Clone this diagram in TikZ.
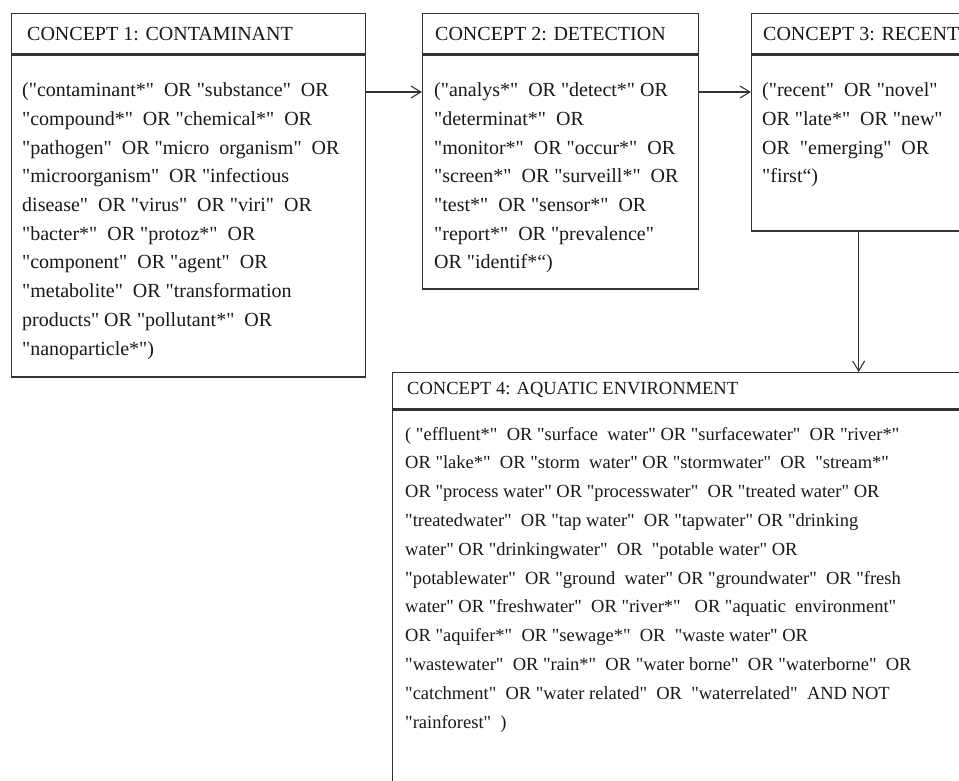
\documentclass[tikz,border=0pt]{standalone}
\usepackage{fontspec}
\setmainfont{Liberation Serif}[Ligatures=TeXOff]
\usetikzlibrary{arrows.meta}

\tikzset{
  frame/.style={draw=black!80, line width=1.3pt, rectangle, inner sep=0pt, anchor=north west},
  hdr/.style={anchor=base west, inner sep=0pt, text=black!90, font=\fontsize{20}{24}\selectfont},
  % multi-line text: the base anchor sits on the baseline of the last line
  body/.style={anchor=base west, inner sep=0pt, align=left, text=black!90, font=\fontsize{20}{28.7}\selectfont},
  arr/.style={draw=black!80, line width=1.1pt, -{Straight Barb[length=10pt,width=12pt]}}
}

\begin{document}
\begin{tikzpicture}[x=1pt,y=-1pt]
  \useasboundingbox (0,0) rectangle (959,780);
  \clip (0,0) rectangle (959,780);
  \fill[white] (0,0) rectangle (959,780);

  % box frames: a title strip above a body
  \node[frame, minimum width=354pt, minimum height=40pt] (h1) at (11,13) {};
  \node[frame, minimum width=354pt, minimum height=322pt] (b1) at (h1.south west) {};
  \node[frame, minimum width=276pt, minimum height=40pt] (h2) at (422,13) {};
  \node[frame, minimum width=276pt, minimum height=234pt] (b2) at (h2.south west) {};
  \node[frame, minimum width=214pt, minimum height=40pt] (h3) at (751,13) {};
  \node[frame, minimum width=214pt, minimum height=176pt] (b3) at (h3.south west) {};
  \node[frame, minimum width=590pt, minimum height=36pt] (h4) at (392,372) {};
  \node[frame, minimum width=590pt, minimum height=440pt] (b4) at (h4.south west) {};

  % connectors
  \coordinate (row) at (0,92);
  \draw[arr] (b1.east |- row) -- (b2.west |- row);
  \draw[arr] (b2.east |- row) -- (b3.west |- row);
  \draw[arr] (b3.south) -- (b3.south |- h4.north);

  % titles
  \node[hdr] (t1) at (27,40.7) {CONCEPT 1: CONTAMINANT};
  \node[hdr] (t2) at (435,40.7) {CONCEPT 2: DETECTION};
  \node[hdr] (t3) at (763,40.7) {CONCEPT 3: RECENT};
  \node[hdr, font=\fontsize{18.5}{22}\selectfont] (t4) at (407,394) {CONCEPT 4: AQUATIC ENVIRONMENT};

  % search strings
  \node[body] (s1) at (22,355) {%
("contaminant*"~ OR "substance"~ OR\\
"compound*"~ OR "chemical*"~ OR\\
"pathogen"~ OR "micro~ organism"~ OR\\
"microorganism"~ OR "infectious\\
disease"~ OR "virus"~ OR "viri"~ OR\\
"bacter*"~ OR "protoz*"~ OR\\
"component"~ OR "agent"~ OR\\
"metabolite"~ OR "transformation\\
products" OR "pollutant*"~ OR\\
"nanoparticle*")};

  \node[body] (s2) at (434,268.9) {%
("analys*"~ OR "detect*" OR\\
"determinat*"~ OR\\
"monitor*"~ OR "occur*"~ OR\\
"screen*"~ OR "surveill*"~ OR\\
"test*"~ OR "sensor*"~ OR\\
"report*"~ OR "prevalence"\\
OR "identif*“)};

  \node[body] (s3) at (762,182.8) {%
("recent"~ OR "novel"\\
OR "late*"~ OR "new"\\
OR~ "emerging"~ OR\\
"first“)};

  \node[body, font=\fontsize{18.5}{28.8}\selectfont] (s4) at (405,728) {%
( "effluent*"~ OR "surface~ water" OR "surfacewater"~ OR "river*"\\
OR "lake*"~ OR "storm~ water" OR "stormwater"~ OR~ "stream*"\\
OR "process water" OR "processwater"~ OR "treated water" OR\\
"treatedwater"~ OR "tap water"~ OR "tapwater" OR "drinking\\
water" OR "drinkingwater"~ OR~ "potable water" OR\\
"potablewater"~ OR "ground~ water" OR "groundwater"~ OR "fresh\\
water" OR "freshwater"~ OR "river*"~~ OR "aquatic~ environment"\\
OR "aquifer*"~ OR "sewage*"~ OR~ "waste water" OR\\
"wastewater"~ OR "rain*"~ OR "water borne"~ OR "waterborne"~ OR\\
"catchment"~ OR "water related"~ OR~ "waterrelated"~ AND NOT\\
"rainforest"~ )};
\end{tikzpicture}
\end{document}
